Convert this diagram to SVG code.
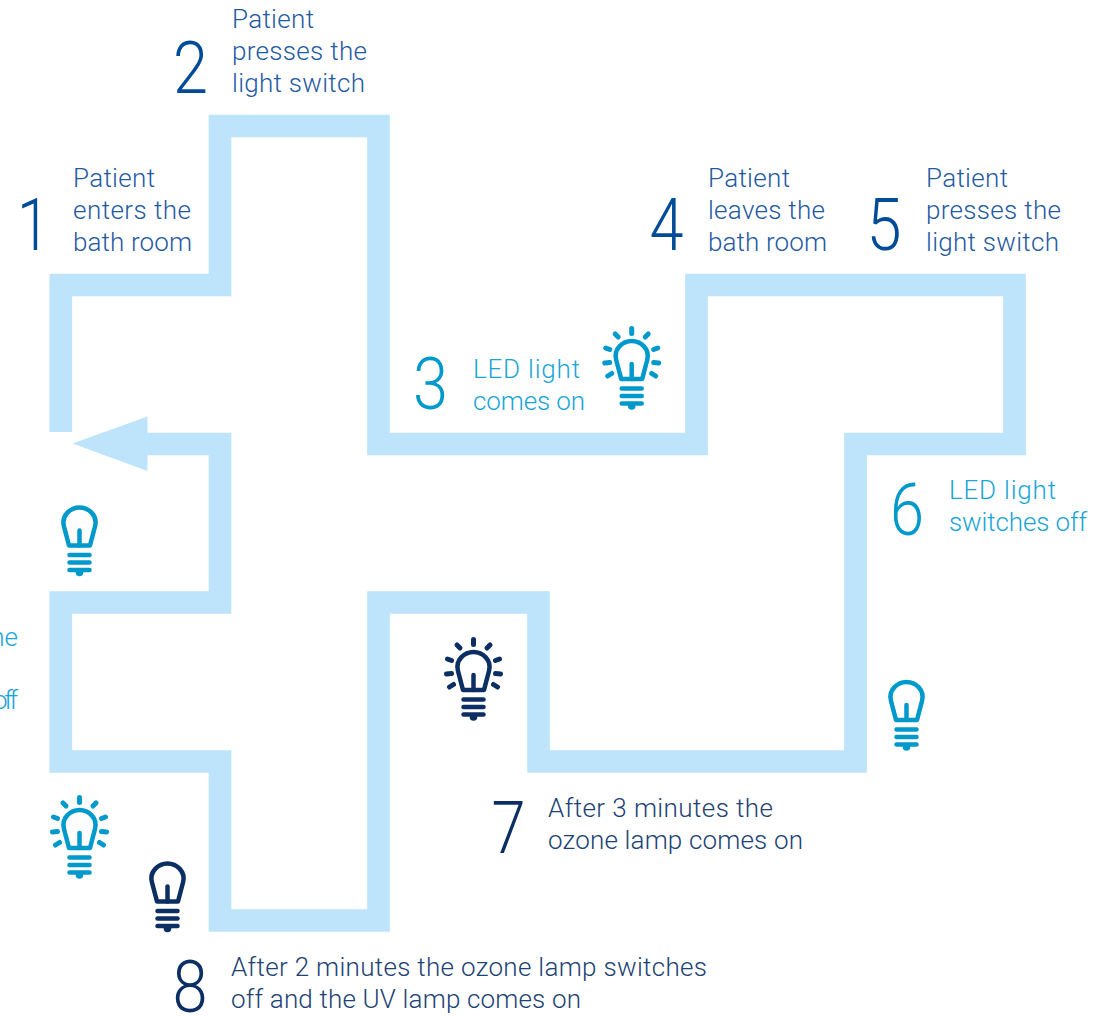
<svg xmlns="http://www.w3.org/2000/svg" width="1093" height="1016" viewBox="0 0 1093 1016">
<style>
text{font-family:"Roboto","Liberation Sans",sans-serif;font-weight:300}
.l{font-size:26px}
.n{font-size:73px}
.b{fill:#004b97}.bl{fill:#1f5aa3}
.c{fill:#0099cc}.cl{fill:#1aa5d8}
.d{fill:#0c2f63}.dl{fill:#1d4275}
.bulb path,.bulb line{fill:none;stroke:currentColor;stroke-width:4.500;stroke-linecap:round;stroke-linejoin:round}
.bulb circle{fill:currentColor}
.rays line{stroke-width:5}
</style>
<defs>
<g id="bulb" class="bulb">
<path d="M-10.500 40L-15.500 21C-18.500 10-9 2 0 2S18.500 10 15.500 21L10.500 40Z"/>
<line x1="0" y1="25" x2="0" y2="40"/>
<line x1="-10" y1="49.500" x2="10" y2="49.500"/><line x1="-10" y1="57" x2="10" y2="57"/><line x1="-10" y1="64.500" x2="10" y2="64.500"/>
<circle cx="0" cy="67" r="3.800"/>
</g>
<g id="rays" class="bulb rays">
<line x1="0" y1="-10.500" x2="0" y2="-5.500"/>
<line x1="-16.500" y1="-5" x2="-13.500" y2="-2"/><line x1="16.500" y1="-5" x2="13.500" y2="-2"/>
<line x1="-26" y1="9" x2="-22" y2="10.500"/><line x1="26" y1="9" x2="22" y2="10.500"/>
<line x1="-27" y1="24" x2="-22" y2="23.500"/><line x1="27" y1="24" x2="22" y2="23.500"/>
<line x1="-24" y1="37" x2="-20" y2="34.500"/><line x1="24" y1="37" x2="20" y2="34.500"/>
</g>
</defs>
<g id="connectors">
<path d="M60.800 432V285H220V126H378.500V444H696.500V285H1014.500V444H855.500V761.500H538.500V602.500H378.500V920.500H220V761.500H60.800V602.500H220V444H147" fill="none" stroke="#bde4fb" stroke-width="22.700" stroke-linejoin="miter"/>
<polygon points="72.500,443.500 147.500,416.500 147.500,471" fill="#bde4fb"/>
</g>
<g id="step1"><text class="n b" x="17" y="250" textLength="33" lengthAdjust="spacingAndGlyphs">1</text><text class="l bl" x="73" y="187" textLength="82">Patient</text><text class="l bl" x="73" y="219" textLength="118">enters the</text><text class="l bl" x="73" y="251" textLength="119">bath room</text></g>
<g id="step2"><text class="n b" x="173" y="93" textLength="35" lengthAdjust="spacingAndGlyphs">2</text><text class="l bl" x="232" y="28" textLength="82">Patient</text><text class="l bl" x="232" y="60" textLength="135">presses the</text><text class="l bl" x="232" y="92" textLength="133">light switch</text></g>
<g id="step3"><text class="n c" x="413" y="409" textLength="35" lengthAdjust="spacingAndGlyphs">3</text><text class="l cl" x="473" y="378" textLength="107">LED light</text><text class="l cl" x="473" y="410" textLength="112">comes on</text><use href="#bulb" x="631.700" y="339" color="#0099cc"/><use href="#rays" x="631.700" y="339" color="#0099cc"/></g>
<g id="step4"><text class="n b" x="649.500" y="250" textLength="34" lengthAdjust="spacingAndGlyphs">4</text><text class="l bl" x="708" y="187" textLength="82">Patient</text><text class="l bl" x="708" y="219" textLength="117">leaves the</text><text class="l bl" x="708" y="251" textLength="119">bath room</text></g>
<g id="step5"><text class="n b" x="866.500" y="250" textLength="35" lengthAdjust="spacingAndGlyphs">5</text><text class="l bl" x="926" y="187" textLength="82">Patient</text><text class="l bl" x="926" y="219" textLength="135">presses the</text><text class="l bl" x="926" y="251" textLength="133">light switch</text></g>
<g id="step6"><text class="n c" x="890" y="535" textLength="34" lengthAdjust="spacingAndGlyphs">6</text><text class="l cl" x="949" y="499" textLength="107">LED light</text><text class="l cl" x="949" y="531" textLength="138">switches off</text><use href="#bulb" x="906.500" y="680" color="#0099cc"/></g>
<g id="step7"><text class="n d" x="491.500" y="853" textLength="34" lengthAdjust="spacingAndGlyphs">7</text><text class="l dl" x="548" y="817" textLength="225">After 3 minutes the</text><text class="l dl" x="548" y="849" textLength="255">ozone lamp comes on</text><use href="#bulb" x="473.500" y="650" color="#0c2f63"/><use href="#rays" x="473.500" y="650" color="#0c2f63"/></g>
<g id="step8"><text class="n d" x="172.500" y="1012" textLength="35" lengthAdjust="spacingAndGlyphs">8</text><text class="l dl" x="231" y="976" textLength="476">After 2 minutes the ozone lamp switches</text><text class="l dl" x="231" y="1008" textLength="350">off and the UV lamp comes on</text><use href="#bulb" x="167.500" y="861.500" color="#0c2f63"/></g>
<g id="step9"><text class="l cl" x="18" y="646" text-anchor="end">ne</text><text class="l cl" x="-7" y="709" textLength="25">off</text><use href="#bulb" x="79.500" y="505.500" color="#0099cc"/><use href="#bulb" x="79.500" y="808" color="#0099cc"/><use href="#rays" x="79.500" y="808" color="#0099cc"/></g>
</svg>
